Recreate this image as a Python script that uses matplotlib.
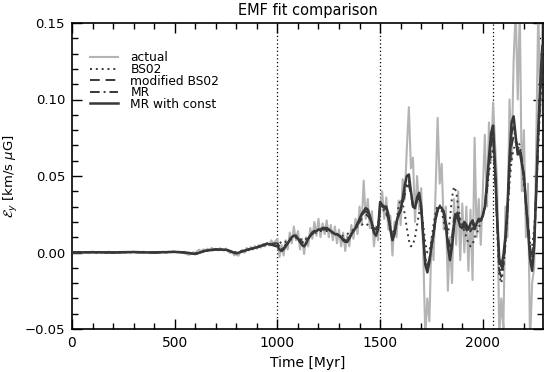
import matplotlib
matplotlib.use("Agg")
import matplotlib.pyplot as plt
from matplotlib.ticker import MultipleLocator, FuncFormatter

# ---------------- data ----------------
# actual EMF, sampled every 10 Myr from 0 to 2290
t_actual = list(range(0, 2300, 10))
actual = [
    0.0000, 0.0003, -0.0002, 0.0001, 0.0004, -0.0003, 0.0002, 0.0000, -0.0004, 0.0003,
    0.0005, 0.0001, -0.0002, 0.0004, 0.0000, 0.0003, -0.0003, 0.0002, 0.0005, -0.0001,
    0.0002, -0.0004, 0.0001, 0.0003, 0.0000, -0.0002, 0.0004, 0.0002, -0.0001, 0.0003,
    0.0006, 0.0001, 0.0004, -0.0002, 0.0003, 0.0005, 0.0000, 0.0002, -0.0003, 0.0001,
    0.0003, -0.0001, 0.0004, 0.0001, 0.0006, 0.0002, -0.0002, 0.0005, 0.0003, 0.0008,
    0.0004, 0.0001, 0.0006, -0.0003, 0.0002, -0.0006, -0.0012, -0.0015, -0.0008, 0.0002,
    -0.0005, 0.0010, 0.0018, 0.0006, 0.0021, 0.0012, 0.0025, 0.0015, 0.0030, 0.0019,
    0.0024, 0.0014, 0.0028, 0.0020, 0.0012, 0.0026, 0.0008, -0.0004, 0.0002, -0.0018,
    -0.0010, -0.0022, 0.0006, 0.0018, -0.0002, 0.0030, 0.0014, 0.0036, 0.0020, 0.0042,
    0.0025, 0.0048, 0.0032, 0.0056, 0.0040, 0.0062, 0.0045, 0.0080, 0.0058, 0.0074,
    # 1000 - 1490
    0.009, -0.003, 0.005, -0.002, 0.008, 0.002, 0.013, 0.006, 0.017, 0.008,
    0.014, 0.002, 0.009, -0.001, 0.010, 0.004, 0.016, 0.009, 0.020, 0.011,
    0.022, 0.010, 0.019, 0.012, 0.021, 0.010, 0.018, 0.008, 0.017, 0.006,
    0.015, 0.004, 0.013, 0.001, 0.011, 0.004, 0.018, 0.009, 0.022, 0.012,
    0.030, 0.018, 0.047, 0.022, 0.035, 0.016, 0.027, 0.004, 0.017, 0.008,
    # 1500 - 1990
    0.030, 0.040, 0.022, 0.036, 0.015, 0.024, -0.002, 0.020, 0.010, 0.034,
    0.018, 0.048, 0.035, 0.068, 0.095, 0.055, 0.062, 0.020, 0.050, 0.028,
    0.042, 0.000, -0.055, -0.030, -0.045, 0.010, -0.005, 0.040, 0.088, 0.045,
    0.058, 0.015, 0.030, -0.025, 0.010, -0.020, 0.035, 0.005, 0.040, -0.005,
    0.032, 0.000, 0.030, -0.012, 0.028, -0.018, 0.075, 0.010, 0.035, 0.005,
    # 2000 - 2290
    0.040, 0.077, 0.030, 0.085, 0.060, 0.098, 0.070, 0.045, -0.055, -0.030,
    -0.050, 0.030, 0.010, 0.100, 0.060, 0.125, 0.160, 0.100, 0.160, 0.040,
    0.080, 0.010, 0.045, -0.060, -0.020, -0.010, 0.070, 0.160, 0.090, 0.150,
]

# model fits: every 50 Myr up to 950, then every 10 Myr to 2290
t_model = list(range(0, 1000, 50)) + list(range(1000, 2300, 10))

mr_const = [
    0.0000, 0.0001, 0.0002, 0.0001, 0.0000, 0.0002, 0.0003, 0.0001, 0.0000, 0.0002,
    0.0004, 0.0000, -0.0010, 0.0012, 0.0020, 0.0018, -0.0006, 0.0016, 0.0034, 0.0058,
    # 1000
    0.004, 0.002, 0.001, 0.002, 0.004, 0.006, 0.008, 0.010, 0.011, 0.011,
    0.009, 0.007, 0.005, 0.004, 0.006, 0.009, 0.011, 0.013, 0.014, 0.014,
    0.015, 0.015, 0.016, 0.016, 0.016, 0.015, 0.014, 0.013, 0.012, 0.012,
    0.011, 0.010, 0.008, 0.007, 0.007, 0.009, 0.012, 0.014, 0.016, 0.019,
    0.022, 0.025, 0.027, 0.029, 0.028, 0.024, 0.019, 0.013, 0.011, 0.015,
    # 1500
    0.033, 0.031, 0.030, 0.030, 0.025, 0.015, 0.008, 0.012, 0.020, 0.025,
    0.028, 0.035, 0.044, 0.050, 0.051, 0.040, 0.030, 0.029, 0.036, 0.039,
    0.030, 0.010, -0.008, -0.013, -0.006, 0.004, 0.012, 0.022, 0.028, 0.030,
    0.029, 0.026, 0.018, 0.004, -0.005, 0.004, 0.018, 0.025, 0.022, 0.017,
    0.016, 0.020, 0.018, 0.015, 0.019, 0.021, 0.017, 0.019, 0.022, 0.021,
    # 2000
    0.024, 0.030, 0.045, 0.062, 0.078, 0.083, 0.055, 0.022, -0.004, -0.009,
    -0.002, 0.010, 0.030, 0.062, 0.085, 0.089, 0.076, 0.064, 0.066, 0.058,
    0.050, 0.032, 0.015, -0.004, -0.012, 0.004, 0.040, 0.080, 0.112, 0.135,
]

mr = [
    0.0000, 0.0001, 0.0002, 0.0001, 0.0000, 0.0002, 0.0003, 0.0001, 0.0000, 0.0002,
    0.0004, 0.0000, -0.0010, 0.0012, 0.0020, 0.0018, -0.0006, 0.0016, 0.0034, 0.0056,
    # 1000
    0.005, 0.003, 0.002, 0.003, 0.004, 0.006, 0.008, 0.009, 0.010, 0.010,
    0.009, 0.007, 0.006, 0.005, 0.006, 0.009, 0.011, 0.013, 0.014, 0.014,
    0.015, 0.015, 0.015, 0.016, 0.016, 0.015, 0.014, 0.013, 0.012, 0.012,
    0.011, 0.010, 0.009, 0.008, 0.008, 0.009, 0.012, 0.014, 0.016, 0.019,
    0.021, 0.024, 0.026, 0.027, 0.026, 0.023, 0.019, 0.014, 0.012, 0.015,
    # 1500
    0.031, 0.030, 0.029, 0.028, 0.024, 0.016, 0.010, 0.013, 0.020, 0.025,
    0.028, 0.034, 0.041, 0.046, 0.047, 0.039, 0.030, 0.029, 0.035, 0.037,
    0.029, 0.011, -0.006, -0.011, -0.005, 0.004, 0.012, 0.022, 0.028, 0.030,
    0.029, 0.026, 0.019, 0.006, -0.002, 0.006, 0.019, 0.025, 0.022, 0.017,
    0.016, 0.019, 0.017, 0.014, 0.017, 0.019, 0.016, 0.018, 0.021, 0.021,
    # 2000
    0.024, 0.030, 0.044, 0.060, 0.075, 0.080, 0.054, 0.020, -0.008, -0.013,
    -0.005, 0.008, 0.028, 0.058, 0.078, 0.082, 0.074, 0.066, 0.068, 0.060,
    0.050, 0.032, 0.016, 0.000, -0.008, 0.006, 0.040, 0.078, 0.108, 0.128,
]

mod_bs02 = [
    0.0000, 0.0001, 0.0002, 0.0001, 0.0000, 0.0002, 0.0003, 0.0001, 0.0000, 0.0002,
    0.0004, 0.0000, -0.0009, 0.0011, 0.0019, 0.0018, -0.0005, 0.0016, 0.0033, 0.0055,
    # 1000
    0.006, 0.004, 0.003, 0.003, 0.005, 0.006, 0.008, 0.009, 0.010, 0.010,
    0.009, 0.008, 0.007, 0.006, 0.007, 0.009, 0.011, 0.012, 0.013, 0.014,
    0.014, 0.015, 0.015, 0.015, 0.015, 0.015, 0.014, 0.013, 0.012, 0.012,
    0.011, 0.010, 0.009, 0.009, 0.009, 0.010, 0.012, 0.014, 0.016, 0.018,
    0.020, 0.022, 0.024, 0.025, 0.024, 0.022, 0.019, 0.016, 0.015, 0.016,
    # 1500
    0.028, 0.028, 0.027, 0.026, 0.022, 0.015, 0.010, 0.013, 0.019, 0.024,
    0.027, 0.032, 0.038, 0.043, 0.044, 0.038, 0.031, 0.029, 0.034, 0.036,
    0.028, 0.012, -0.004, -0.009, -0.004, 0.005, 0.013, 0.022, 0.027, 0.029,
    0.029, 0.027, 0.021, 0.010, 0.004, 0.010, 0.022, 0.028, 0.025, 0.019,
    0.016, 0.017, 0.015, 0.012, 0.014, 0.016, 0.015, 0.017, 0.020, 0.021,
    # 2000
    0.024, 0.029, 0.042, 0.056, 0.070, 0.075, 0.052, 0.018, -0.012, -0.016,
    -0.008, 0.006, 0.026, 0.052, 0.070, 0.076, 0.072, 0.068, 0.069, 0.061,
    0.050, 0.033, 0.018, 0.004, -0.004, 0.008, 0.040, 0.075, 0.103, 0.122,
]

bs02 = [
    0.0000, 0.0001, 0.0001, 0.0001, 0.0000, 0.0001, 0.0002, 0.0001, 0.0000, 0.0002,
    0.0003, 0.0001, -0.0006, 0.0009, 0.0017, 0.0017, 0.0002, 0.0017, 0.0032, 0.0052,
    # 1000
    0.006, 0.007, 0.006, 0.006, 0.007, 0.008, 0.009, 0.010, 0.010, 0.010,
    0.009, 0.009, 0.008, 0.008, 0.009, 0.010, 0.011, 0.012, 0.013, 0.013,
    0.014, 0.014, 0.014, 0.014, 0.014, 0.014, 0.013, 0.013, 0.012, 0.012,
    0.012, 0.011, 0.011, 0.011, 0.012, 0.013, 0.014, 0.015, 0.016, 0.017,
    0.018, 0.018, 0.019, 0.019, 0.018, 0.017, 0.016, 0.015, 0.016, 0.018,
    # 1500
    0.028, 0.029, 0.027, 0.025, 0.022, 0.016, 0.012, 0.015, 0.020, 0.030,
    0.035, 0.032, 0.025, 0.016, 0.008, 0.004, 0.005, 0.010, 0.018, 0.026,
    0.028, 0.018, 0.006, 0.000, 0.001, 0.008, 0.018, 0.026, 0.031, 0.031,
    0.027, 0.020, 0.013, 0.012, 0.022, 0.036, 0.043, 0.040, 0.030, 0.022,
    0.018, 0.014, 0.010, 0.006, 0.004, 0.005, 0.010, 0.012, 0.016, 0.020,
    # 2000
    0.024, 0.030, 0.040, 0.052, 0.062, 0.068, 0.050, 0.015, -0.015, -0.020,
    -0.010, 0.005, 0.025, 0.045, 0.060, 0.068, 0.070, 0.073, 0.070, 0.060,
    0.045, 0.030, 0.016, 0.006, 0.004, 0.015, 0.040, 0.070, 0.098, 0.118,
]

fit_boundaries = [1000, 1500, 2050]

title = "EMF fit comparison"
xlabel = "Time [Myr]"
ylabel = r"$\mathcal{E}_y$ [km/s $\mu$G]"
labels = ["actual", "BS02", "modified BS02", "MR", "MR with const"]

# ---------------- plot ----------------
plt.rcParams["font.family"] = ["DejaVu Sans"]
plt.rcParams["mathtext.fontset"] = "dejavusans"

fig = plt.figure(figsize=(5.46, 3.72), dpi=100)
ax = fig.add_axes([72 / 546, 1 - 329 / 372, (543 - 72) / 546, (329 - 23) / 372])

dark = "#383838"
ax.plot(t_actual, actual, color="#b4b4b4", lw=1.5, label=labels[0], zorder=2)
ax.plot(t_model, bs02, color=dark, lw=1.4, ls=(0, (1, 2)), label=labels[1], zorder=3)
ax.plot(t_model, mod_bs02, color=dark, lw=1.4, ls=(0, (5, 3)), label=labels[2], zorder=3)
ax.plot(t_model, mr, color=dark, lw=1.4, ls=(0, (5, 2, 1, 2)), label=labels[3], zorder=3)
ax.plot(t_model, mr_const, color=dark, lw=1.8, ls="-", label=labels[4], zorder=4)

for b in fit_boundaries:
    ax.axvline(b, color="black", lw=0.9, ls=(0, (1, 2)), zorder=1)

ax.set_xlim(0, 2293)
ax.set_ylim(-0.05, 0.15)

ax.xaxis.set_major_locator(MultipleLocator(500))
ax.xaxis.set_minor_locator(MultipleLocator(100))
ax.yaxis.set_major_locator(MultipleLocator(0.05))
ax.yaxis.set_minor_locator(MultipleLocator(0.01))
ax.yaxis.set_major_formatter(FuncFormatter(lambda v, p: ("%.2f" % v).replace("-", "\u2212") if abs(v) > 1e-9 else "0.00"))
ax.xaxis.set_major_formatter(FuncFormatter(lambda v, p: "%d" % round(v)))

ax.tick_params(which="both", direction="in", top=True, right=True, width=1.0)
ax.tick_params(axis="x", labelsize=10)
ax.tick_params(axis="y", labelsize=9.5)
ax.tick_params(which="major", length=7.5, pad=5)
ax.tick_params(which="minor", length=4)
for s in ax.spines.values():
    s.set_linewidth(1.2)

ax.set_title(title, fontsize=10.5, pad=6)
ax.set_xlabel(xlabel, fontsize=10, labelpad=4)
ax.set_ylabel(ylabel, fontsize=9.5)
ax.yaxis.set_label_coords(-0.11, 0.5)

leg = ax.legend(loc="upper left", bbox_to_anchor=(0.02, 0.935), frameon=False, fontsize=8.8,
                handlelength=2.3, handletextpad=1.0, labelspacing=-0.12, borderpad=0.2)

fig.savefig("out.png", dpi=100)
